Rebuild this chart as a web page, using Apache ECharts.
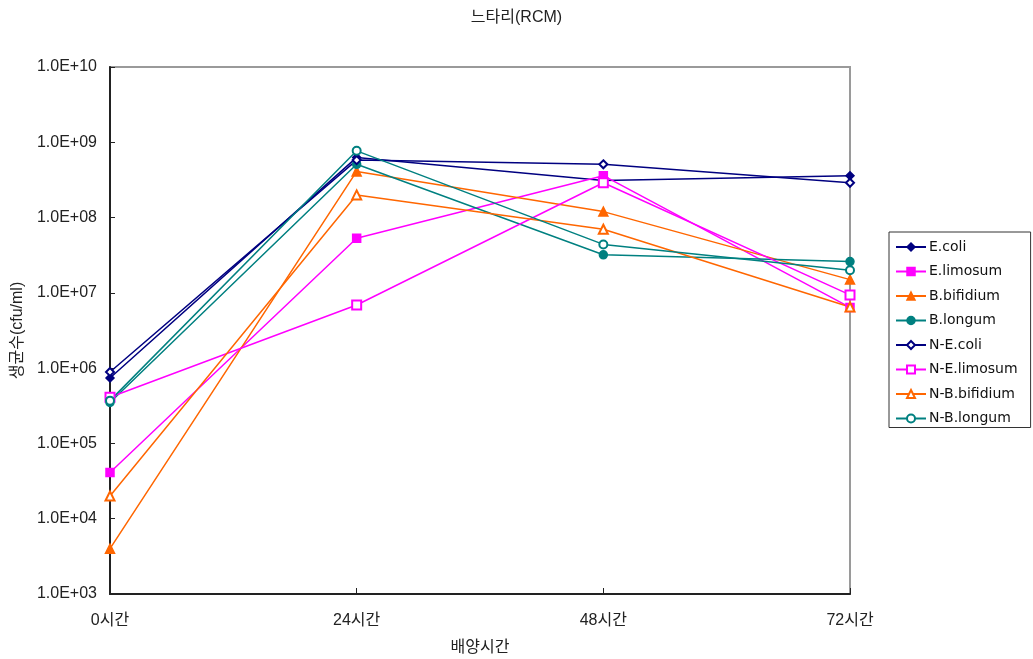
<!DOCTYPE html>
<html>
<head>
<meta charset="utf-8">
<script src="https://cdn.jsdelivr.net/npm/echarts@6/dist/echarts.min.js"></script>
<style>
  html, body { margin: 0; padding: 0; background: #fff; }
  #chart { width: 1033px; height: 659px; }
</style>
</head>
<body>
<div id="chart"></div>
<script>
// Incubation times
const categories = ['0시간', '24시간', '48시간', '72시간'];

// Viable counts (cfu/ml) per strain
const eColi       = [7.4e5, 6.3e8, 3.1e8, 3.6e8];
const eLimosum    = [4.1e4, 5.3e7, 3.6e8, 6.4e6];
const bBifidium   = [4.0e3, 4.1e8, 1.2e8, 1.5e7];
const bLongum     = [3.5e5, 5.1e8, 3.2e7, 2.6e7];
const nEColi      = [8.9e5, 5.8e8, 5.1e8, 2.9e8];
const nELimosum   = [4.1e5, 6.9e6, 2.9e8, 9.4e6];
const nBBifidium  = [2.0e4, 2.0e8, 7.0e7, 6.5e6];
const nBLongum    = [3.7e5, 7.7e8, 4.4e7, 2.0e7];

const seriesNames = ['E.coli', 'E.limosum', 'B.bifidium', 'B.longum',
                     'N-E.coli', 'N-E.limosum', 'N-B.bifidium', 'N-B.longum'];
const seriesData = [eColi, eLimosum, bBifidium, bLongum,
                    nEColi, nELimosum, nBBifidium, nBLongum];
const colors = ['#000080', '#FF00FF', '#FF6600', '#008080',
                '#000080', '#FF00FF', '#FF6600', '#008080'];
const symbols = ['diamond', 'rect', 'triangle', 'circle',
                 'emptyDiamond', 'emptyRect', 'emptyTriangle', 'emptyCircle'];
const symbolSizes = [8, 8, 9, 8, 8, 9, 9, 8];

const FONT = "'Liberation Sans', 'Noto Sans CJK KR', sans-serif";
const LEGEND_FONT = "'DejaVu Sans', sans-serif";

const chart = echarts.init(document.getElementById('chart'), null, { renderer: 'canvas' });

chart.setOption({
  animation: false,
  backgroundColor: '#fff',
  textStyle: { fontFamily: FONT },
  title: {
    text: '느타리(RCM)',
    left: 'center',
    top: 5,
    textStyle: { fontFamily: FONT, fontSize: 16, fontWeight: 'normal', color: '#222' }
  },
  grid: {
    left: 110, right: 183, top: 67, bottom: 65,
    outerBoundsMode: 'none',
    containLabel: false,
    show: true, borderColor: '#9a9a9a', borderWidth: 2, backgroundColor: 'transparent'
  },
  legend: {
    orient: 'vertical',
    left: 889, top: 232,
    padding: [7, 13, 1, 6],
    itemGap: 8.5,
    itemWidth: 30,
    itemHeight: 10,
    itemStyle: { borderWidth: 1.5 },
    borderColor: '#333',
    borderWidth: 1,
    borderRadius: 0,
    textStyle: { fontFamily: LEGEND_FONT, fontSize: 14, lineHeight: 16, color: '#111', padding: [0, 0, 0, -2] },
    data: seriesNames
  },
  xAxis: {
    type: 'category',
    data: categories,
    boundaryGap: false,
    name: '배양시간',
    nameLocation: 'middle',
    nameGap: 46,
    nameTextStyle: { fontFamily: FONT, fontSize: 16, color: '#222' },
    axisLine: { lineStyle: { color: '#222', width: 2 } },
    axisTick: { inside: true, length: 6, lineStyle: { color: '#222', width: 1 } },
    axisLabel: { fontFamily: FONT, fontSize: 16, color: '#222', margin: 19 },
    splitLine: { show: false }
  },
  yAxis: {
    type: 'log',
    logBase: 10,
    min: 1e3,
    max: 1e10,
    name: '생균수(cfu/ml)',
    nameLocation: 'middle',
    nameGap: 84,
    nameRotate: 90,
    nameTextStyle: { fontFamily: FONT, fontSize: 16, color: '#222' },
    axisLine: { show: true, lineStyle: { color: '#222', width: 2 } },
    axisTick: { show: true, inside: true, length: 5, lineStyle: { color: '#222', width: 1 } },
    axisLabel: {
      fontFamily: FONT, fontSize: 16, color: '#222', margin: 13,
      formatter: function (v) {
        const e = Math.round(Math.log10(v));
        return '1.0E+' + (e < 10 ? '0' + e : '' + e);
      }
    },
    splitLine: { show: false }
  },
  series: seriesNames.map(function (name, i) {
    return {
      name: name,
      type: 'line',
      data: seriesData[i],
      symbol: symbols[i],
      symbolSize: symbolSizes[i],
      showAllSymbol: true,
      color: colors[i],
      lineStyle: { color: colors[i], width: 1.5 },
      itemStyle: { color: colors[i], borderColor: colors[i], borderWidth: 1.5 },
      emphasis: { disabled: true }
    };
  })
});
</script>
</body>
</html>
